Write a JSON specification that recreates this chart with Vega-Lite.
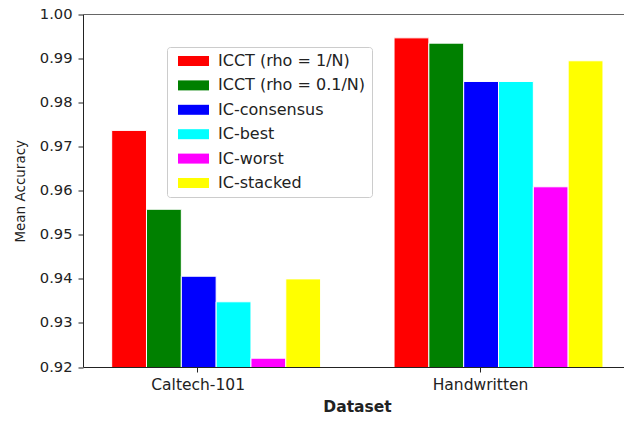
{
  "$schema": "https://vega.github.io/schema/vega-lite/v6.json",
  "autosize": {"type": "none"},
  "padding": {"left": 83, "top": 14.5, "right": 0, "bottom": 54},
  "width": 541,
  "height": 352.5,
  "config": {
    "view": {"stroke": null},
    "font": "DejaVu Sans",
    "axis": {"labelFont": "DejaVu Sans", "titleFont": "DejaVu Sans", "labelColor": "#222", "titleColor": "#222", "domainColor": "#222", "tickColor": "#222", "grid": false}
  },
  "data": {
    "values": [
      {"Dataset": "Caltech-101", "Method": "ICCT (rho = 1/N)", "Accuracy": 0.9737},
      {"Dataset": "Caltech-101", "Method": "ICCT (rho = 0.1/N)", "Accuracy": 0.9558},
      {"Dataset": "Caltech-101", "Method": "IC-consensus", "Accuracy": 0.9406},
      {"Dataset": "Caltech-101", "Method": "IC-best", "Accuracy": 0.9348},
      {"Dataset": "Caltech-101", "Method": "IC-worst", "Accuracy": 0.922},
      {"Dataset": "Caltech-101", "Method": "IC-stacked", "Accuracy": 0.940},
      {"Dataset": "Handwritten", "Method": "ICCT (rho = 1/N)", "Accuracy": 0.9947},
      {"Dataset": "Handwritten", "Method": "ICCT (rho = 0.1/N)", "Accuracy": 0.9935},
      {"Dataset": "Handwritten", "Method": "IC-consensus", "Accuracy": 0.9848},
      {"Dataset": "Handwritten", "Method": "IC-best", "Accuracy": 0.9848},
      {"Dataset": "Handwritten", "Method": "IC-worst", "Accuracy": 0.9609},
      {"Dataset": "Handwritten", "Method": "IC-stacked", "Accuracy": 0.9895}
    ]
  },
  "layer": [
    {
      "mark": {"type": "bar", "stroke": "white", "strokeWidth": 1, "clip": true},
      "encoding": {
        "x": {
          "field": "Dataset", "type": "nominal",
          "scale": {"paddingInner": 0.26, "paddingOuter": 0.088, "align": 0.577},
          "axis": {"labelAngle": 0, "bandPosition": 0.413, "labelOffset": -18, "labelFontSize": 15.5, "labelPadding": 5, "title": "Dataset", "titleFontSize": 15.5, "titleFontWeight": "bold", "titlePadding": 7, "titleX": 274}
        },
        "xOffset": {
          "field": "Method", "type": "nominal",
          "scale": {"domain": ["ICCT (rho = 1/N)", "ICCT (rho = 0.1/N)", "IC-consensus", "IC-best", "IC-worst", "IC-stacked"], "paddingInner": 0, "paddingOuter": 0}
        },
        "y": {
          "field": "Accuracy", "type": "quantitative",
          "scale": {"domain": [0.92, 1.0], "zero": false, "nice": false},
          "axis": {"values": [0.92, 0.93, 0.94, 0.95, 0.96, 0.97, 0.98, 0.99, 1.0], "format": ".2f", "labelFontSize": 14.7, "labelPadding": 6, "title": "Mean Accuracy", "titleFontSize": 13.5, "titleFontWeight": "normal", "titlePadding": 12}
        },
        "color": {
          "field": "Method", "type": "nominal",
          "scale": {
            "domain": ["ICCT (rho = 1/N)", "ICCT (rho = 0.1/N)", "IC-consensus", "IC-best", "IC-worst", "IC-stacked"],
            "range": ["#ff0000", "#008000", "#0000ff", "#00ffff", "#ff00ff", "#ffff00"]
          },
          "legend": {
            "title": null, "orient": "none", "legendX": 84, "legendY": 32.5,
            "symbolType": "M-3.1,-1H3.1V1H-3.1Z", "symbolSize": 100, "symbolStrokeWidth": 0, "symbolOffset": 12.5,
            "labelFont": "DejaVu Sans", "labelFontSize": 16, "labelColor": "#222", "labelOffset": 16.5,
            "padding": 6, "rowPadding": 8.4,
            "strokeColor": "#cccccc", "fillColor": "rgba(255,255,255,0.8)", "cornerRadius": 3
          }
        }
      }
    },
    {
      "mark": {"type": "rule", "color": "#666", "strokeWidth": 1.2},
      "encoding": {"y": {"datum": 1.0}}
    }
  ]
}
